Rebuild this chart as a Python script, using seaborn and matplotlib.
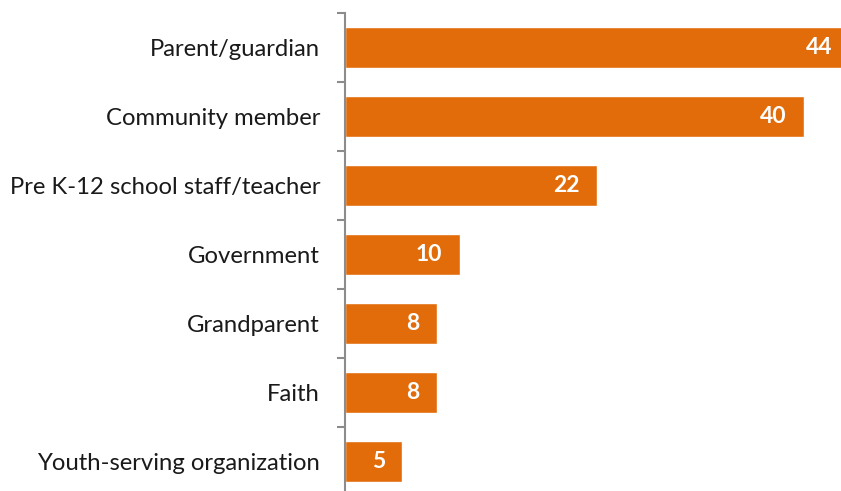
import matplotlib
matplotlib.use("Agg")
import matplotlib.pyplot as plt
import seaborn as sns
import pandas as pd
import numpy as np

categories = ["Parent/guardian", "Community member", "Pre K-12 school staff/teacher",
              "Government", "Grandparent", "Faith", "Youth-serving organization"]
values = [44, 40, 22, 10, 8, 8, 5]

sns.set_theme(style="white")
plt.rcParams['font.family'] = ['Lato', 'DejaVu Sans']

df = pd.DataFrame({"category": categories, "value": values})

fig = plt.figure(figsize=(8.41, 4.91), dpi=100)
W, H = 841, 491
ax = fig.add_axes([345 / W, (H - 496) / H, (841 - 345) / W, (496 - 13) / H])

sns.barplot(data=df, x="value", y="category", orient="h", color="#E36C0A",
            saturation=1, width=0.58, ax=ax)

ax.set_xlim(0, 43.24)
ax.set_ylim(len(categories) - 0.5, -0.5)
ax.set_xlabel("")
ax.set_ylabel("")
ax.set_xticks([])

for s in ["top", "right", "bottom"]:
    ax.spines[s].set_visible(False)
ax.spines["left"].set_color("#8C8C8C")
ax.spines["left"].set_linewidth(1.5)

ax.set_yticks(np.arange(len(categories)))
ax.set_yticklabels(categories, fontsize=17.2, color="#1a1a1a")
ax.tick_params(axis="y", which="major", length=0, pad=18)
ax.set_yticks(np.arange(len(categories) + 1) - 0.5, minor=True)
ax.tick_params(axis="y", which="minor", length=6, width=1.5, color="#8C8C8C", left=True)

for i, v in enumerate(values):
    ax.annotate(str(v), xy=(v, i), xytext=(-12.5, 0), textcoords="offset points",
                ha="right", va="center", color="white", fontsize=16.5,
                fontweight="bold", annotation_clip=False, clip_on=False)

fig.savefig("out.png", dpi=100)
